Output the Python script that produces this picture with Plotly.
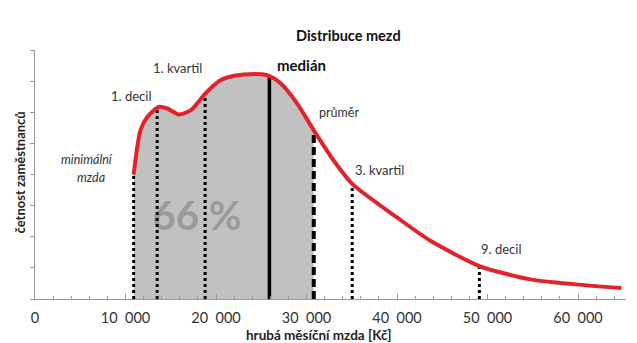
import plotly.graph_objects as go

# Wage distribution curve (x in Kč, y arbitrary frequency units)
curve_x = [10900, 11650, 12400, 13680, 14600, 15900, 17180, 18760, 19760, 20500,
           22000, 24200, 25650, 27130, 28970, 30800, 33000, 35050, 40000, 43700, 49100,
           54750, 59700, 64800]
curve_y = [4.0, 5.42, 5.85, 6.17, 6.12, 5.93, 6.06, 6.58, 6.87, 7.03,
           7.17, 7.23, 7.19, 6.93, 6.28, 5.42, 4.45, 3.70, 2.62, 1.87, 1.06,
           0.63, 0.47, 0.35]

# Shaded area: from minimum wage to mean
fill_end_index = 15  # curve_x[15] == mean

# Markers
marker_names = ["minimální mzda", "1. decil", "1. kvartil", "medián", "průměr", "3. kvartil", "9. decil"]
marker_x = [10900, 13500, 18800, 25900, 30800, 35050, 49100]
marker_top = [4.0, 6.1, 6.55, 7.17, 5.42, 3.70, 1.06]
marker_style = ["dot", "dot", "dot", "solid", "dash", "dot", "dot"]

share_label = "66\u00a0%"
share_pos = (17900, 2.53)

x_tickvals = [0, 10000, 20000, 30000, 40000, 50000, 60000]
x_ticktext = ["0", "10\u00a0\u00a0000", "20\u00a0\u00a0000", "30\u00a0\u00a0000",
              "40\u00a0\u00a0000", "50\u00a0\u00a0000", "60\u00a0\u00a0000"]
y_tickvals = [0, 1, 2, 3, 4, 5, 6, 7, 8]

FONT = "Lato"
TXT = "#333333"
RED = "#e3232b"

fig = go.Figure()

fig.add_trace(go.Scatter(
    x=curve_x[:fill_end_index + 1], y=curve_y[:fill_end_index + 1],
    mode="lines", line=dict(width=0, shape="spline", smoothing=0.7),
    fill="tozeroy", fillcolor="#c1c1c1", hoverinfo="skip", showlegend=False))

# big share label (under the marker lines)
fig.add_trace(go.Scatter(
    x=[share_pos[0]], y=[share_pos[1]], mode="text", text=["<b>" + share_label + "</b>"],
    textfont=dict(size=40, color="#9a9a9a", family=FONT),
    textposition="middle center", showlegend=False, hoverinfo="skip"))

for name, mx, top, st in zip(marker_names, marker_x, marker_top, marker_style):
    if st == "dot":
        line = dict(color="black", width=3, dash="3px,3px")
    elif st == "dash":
        line = dict(color="black", width=4, dash="8px,4px")
    else:
        line = dict(color="black", width=3.5)
    fig.add_trace(go.Scatter(x=[mx, mx], y=[0, top], mode="lines", line=line,
                             name=name, showlegend=False, hoverinfo="skip"))

fig.add_trace(go.Scatter(
    x=curve_x, y=curve_y, mode="lines",
    line=dict(color=RED, width=4, shape="spline", smoothing=0.7),
    showlegend=False, hoverinfo="skip"))

annots = [
    dict(x=5760, y=4.47, text="minimální", font=dict(size=12.5, color=TXT, family=FONT, style="italic")),
    dict(x=6240, y=3.90, text="mzda", font=dict(size=12.5, color=TXT, family=FONT, style="italic")),
    dict(x=10660, y=6.53, text="1. decil", font=dict(size=13, color=TXT, family=FONT)),
    dict(x=15750, y=7.43, text="1. kvartil", font=dict(size=13, color=TXT, family=FONT)),
    dict(x=29390, y=7.53, text="<b>medián</b>", font=dict(size=15, color="#111111", family=FONT)),
    dict(x=33540, y=5.99, text="průměr", font=dict(size=12.5, color=TXT, family=FONT)),
    dict(x=38070, y=4.15, text="3. kvartil", font=dict(size=13, color=TXT, family=FONT)),
    dict(x=51540, y=1.60, text="9. decil", font=dict(size=13, color=TXT, family=FONT)),
]
for a in annots:
    fig.add_annotation(xref="x", yref="y", showarrow=False, xanchor="center", yanchor="middle", **a)

# titles
fig.add_annotation(xref="x", yref="paper", x=34640, y=1.06, showarrow=False,
                   text="<b>Distribuce mezd</b>", font=dict(size=14.5, color="#111111", family=FONT),
                   xanchor="center", yanchor="middle")
fig.add_annotation(xref="x", yref="paper", x=31400, y=-0.145, showarrow=False,
                   text="<b>hrubá měsíční mzda [Kč]</b>", font=dict(size=13.5, color="#222222", family=FONT),
                   xanchor="center", yanchor="middle")
fig.add_annotation(xref="paper", yref="paper", x=-0.025, y=0.509, showarrow=False,
                   text="<b>četnost zaměstnanců</b>", textangle=-90,
                   font=dict(size=13, color="#222222", family=FONT),
                   xanchor="center", yanchor="middle")

fig.update_layout(
    width=637, height=343,
    margin=dict(l=35, r=11, t=50, b=44),
    paper_bgcolor="white", plot_bgcolor="white",
    font=dict(family=FONT, color=TXT),
    showlegend=False,
)
fig.update_xaxes(
    range=[0, 65300], showgrid=False, zeroline=False,
    showline=True, linecolor="#9a9a9a", linewidth=1,
    tickvals=x_tickvals, ticktext=x_ticktext,
    ticks="inside", ticklen=5, tickcolor="#9a9a9a", tickwidth=1,
    minor=dict(dtick=2000, ticks="inside", ticklen=3, tickcolor="#9a9a9a", tickwidth=1),
    tickfont=dict(size=14.5, color=TXT, family=FONT),
    ticklabelstandoff=6,
)
fig.update_yaxes(
    range=[0, 8], showgrid=False, zeroline=False,
    showline=True, linecolor="#9a9a9a", linewidth=1,
    tickvals=y_tickvals, showticklabels=False,
    ticks="outside", ticklen=4, tickcolor="#9a9a9a", tickwidth=1,
)

fig.write_html("out.html")
